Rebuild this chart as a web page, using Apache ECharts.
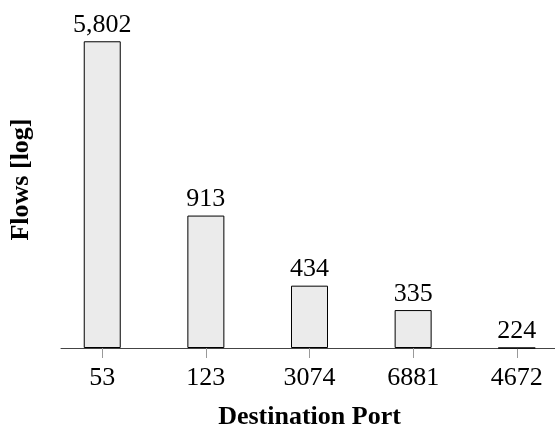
<!DOCTYPE html>
<html>
<head>
<meta charset="utf-8">
<script src="https://cdn.jsdelivr.net/npm/echarts@6/dist/echarts.min.js"></script>
<style>
  html, body { margin: 0; padding: 0; background: #fff; }
  #chart { width: 555px; height: 432px; }
</style>
</head>
<body>
<div id="chart"></div>
<script>
// Top destination ports by number of flows (log scale)
const ports = ['53', '123', '3074', '6881', '4672'];
const flows = [5802, 913, 434, 335, 224];
const positions = [0, 1, 2, 3, 4];

const serif = "'Liberation Serif', 'Times New Roman', serif";

const chart = echarts.init(document.getElementById('chart'), null, { renderer: 'canvas' });

chart.setOption({
  animation: false,
  backgroundColor: '#ffffff',
  grid: { left: 61, width: 497, top: 11, bottom: 84, containLabel: false, outerBoundsMode: 'none' },
  xAxis: {
    type: 'value',
    min: -0.398,
    max: 4.398,
    name: 'Destination Port',
    nameLocation: 'middle',
    nameGap: 56,
    nameTextStyle: { fontFamily: serif, fontWeight: 'bold', fontSize: 26, color: '#000' },
    axisLine: { show: true, lineStyle: { color: '#444', width: 1 } },
    axisTick: { show: true, customValues: positions, length: 10, lineStyle: { color: '#999', width: 1 } },
    axisLabel: {
      customValues: positions,
      formatter: v => ports[Math.round(v)],
      fontFamily: serif, fontSize: 26, color: '#000', margin: 17
    },
    splitLine: { show: false }
  },
  yAxis: {
    type: 'log',
    min: 224,
    max: 8000,
    startValue: 224,
    name: 'Flows [log]',
    nameLocation: 'middle',
    nameGap: 27,
    nameTextStyle: { fontFamily: serif, fontWeight: 'bold', fontSize: 26, color: '#000' },
    axisLine: { show: false },
    axisTick: { show: false },
    axisLabel: { show: false },
    splitLine: { show: false }
  },
  series: [{
    type: 'bar',
    data: positions.map((p, i) => [p, flows[i]]),
    barWidth: 37,
    itemStyle: { color: '#ebebeb', borderColor: '#000', borderWidth: 1 },
    label: {
      show: true,
      position: 'top',
      distance: 3,
      formatter: p => p.value[1].toLocaleString('en-US'),
      fontFamily: serif, fontSize: 26, color: '#000'
    }
  }]
});
</script>
</body>
</html>
